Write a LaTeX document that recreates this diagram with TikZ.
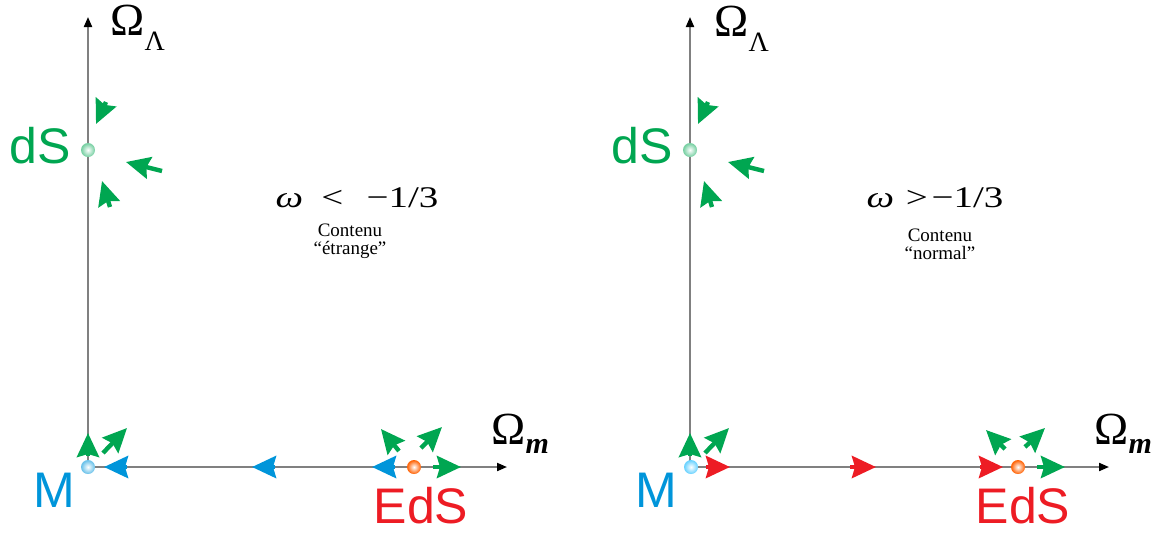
\documentclass[tikz,border=0pt]{standalone}
\usepackage{fontspec}
\setmainfont{Liberation Serif}
\newfontfamily\labfont{Liberation Sans}
\usetikzlibrary{arrows.meta}

\definecolor{dsgreen}{RGB}{0,166,81}
\definecolor{mblue}{RGB}{0,149,218}
\definecolor{edsred}{RGB}{237,28,36}
\definecolor{axisgray}{RGB}{128,128,128}

\begin{document}
\begin{tikzpicture}[
    x=0.5pt, y=-0.5pt,
    axis/.style={draw=axisgray, line width=1pt, -{Triangle[length=5pt, width=4pt, color=black]}},
    flow/.style={line width=2.2pt, -{Stealth[length=12pt, width=11pt, inset=1.5pt]}},
    pt/.style={circle, inner sep=0pt, minimum size=7pt, shading=radial, inner color=white},
    lab/.style={font=\labfont\fontsize{25}{25}\selectfont, inner sep=0pt},
    axlab/.style={font=\fontsize{23}{23}\selectfont, inner sep=0pt, anchor=base west},
    cond/.style={font=\fontsize{15}{15}\selectfont, inner sep=0pt},
    note/.style={font=\fontsize{9.5}{9}\selectfont, align=center, inner sep=0pt}
]
\useasboundingbox (0,0) rectangle (1157,532);

% left panel: w < -1/3
\coordinate (oL) at (88,467);
\coordinate (yL) at (88,17);
\coordinate (xL) at (507,467);
\draw[axis] (oL) -- (yL);
\draw[axis] (oL) -- (xL);

\node[axlab] (olL) at (110,35) {Ω\raisebox{-7.5pt}{\fontsize{14}{14}\selectfont Λ}};
\node[axlab] (omL) at (491,444) {Ω\raisebox{-4.5pt}{\fontsize{15}{15}\selectfont\bfseries\itshape m}};

\draw[flow, dsgreen] (106,102) -- (96,124);
\draw[flow, dsgreen] (162,171) -- (126,162);
\draw[flow, dsgreen] (110,207) -- (102,181);

\draw[flow, dsgreen] (88,456) -- (88,433);
\draw[flow, dsgreen] (103,453) -- (127,428);
\draw[flow, mblue] (127,467) -- (104,467);
\draw[flow, mblue] (275,467) -- (252,467);
\draw[flow, mblue] (395,467) -- (372,467);
\draw[flow, dsgreen] (433,467) -- (461,467);
\draw[flow, dsgreen] (399,451) -- (381,429);
\draw[flow, dsgreen] (421,448) -- (442,427);

\node[pt, outer color=dsgreen!55] (dSL) at (88,150) {};
\node[pt, outer color=mblue!60] (ML) at (88,467) {};
\node[pt, outer color=orange!75!red] (EdSL) at (414,467) {};

\node[lab, text=dsgreen] (dSlabL) at (40,146) {dS};
\node[lab, text=mblue] (MlabL) at (54,490) {M};
\node[lab, text=edsred] (EdSlabL) at (421,506) {EdS};

\node[cond] (condL) at (357,198) {\scalebox{1.3}[1]{\textit{ω}\hspace{7pt}<\hspace{9pt}−1/3}};
\node[note] (noteL) at (350,241) {Contenu\\“étrange”};

% right panel: w > -1/3
\begin{scope}[shift={(602,0)}]
\coordinate (oR) at (88,467);
\coordinate (yR) at (88,17);
\coordinate (xR) at (507,467);
\draw[axis] (oR) -- (yR);
\draw[axis] (oR) -- (xR);

\node[axlab] (olR) at (112,36) {Ω\raisebox{-7.5pt}{\fontsize{14}{14}\selectfont Λ}};
\node[axlab] (omR) at (492,444) {Ω\raisebox{-4.5pt}{\fontsize{15}{15}\selectfont\bfseries\itshape m}};

\draw[flow, dsgreen] (106,102) -- (96,124);
\draw[flow, dsgreen] (162,171) -- (126,162);
\draw[flow, dsgreen] (110,207) -- (102,181);

\draw[flow, dsgreen] (88,456) -- (88,433);
\draw[flow, dsgreen] (103,453) -- (127,428);
\draw[flow, edsred] (104,467) -- (128,467);
\draw[flow, edsred] (248,467) -- (274,467);
\draw[flow, edsred] (378,467) -- (401,467);
\draw[flow, dsgreen] (435,467) -- (463,467);
\draw[flow, dsgreen] (403,449) -- (384,430);
\draw[flow, dsgreen] (423,447) -- (443,428);

\node[pt, outer color=dsgreen!55] (dSR) at (88,150) {};
\node[pt, outer color=cyan!70!blue!60] (MR) at (89,467) {};
\node[pt, outer color=orange!75!red] (EdSR) at (416,467) {};

\node[lab, text=dsgreen] (dSlabR) at (40,146) {dS};
\node[lab, text=mblue] (MlabR) at (54,490) {M};
\node[lab, text=edsred] (EdSlabR) at (421,506) {EdS};

\node[cond] (condR) at (333,198) {\scalebox{1.3}[1]{\textit{ω}\hspace{4.5pt}>\hspace{1.5pt}−1/3}};
\node[note] (noteR) at (338,244) {Contenu\\“normal”};
\end{scope}

\end{tikzpicture}
\end{document}
